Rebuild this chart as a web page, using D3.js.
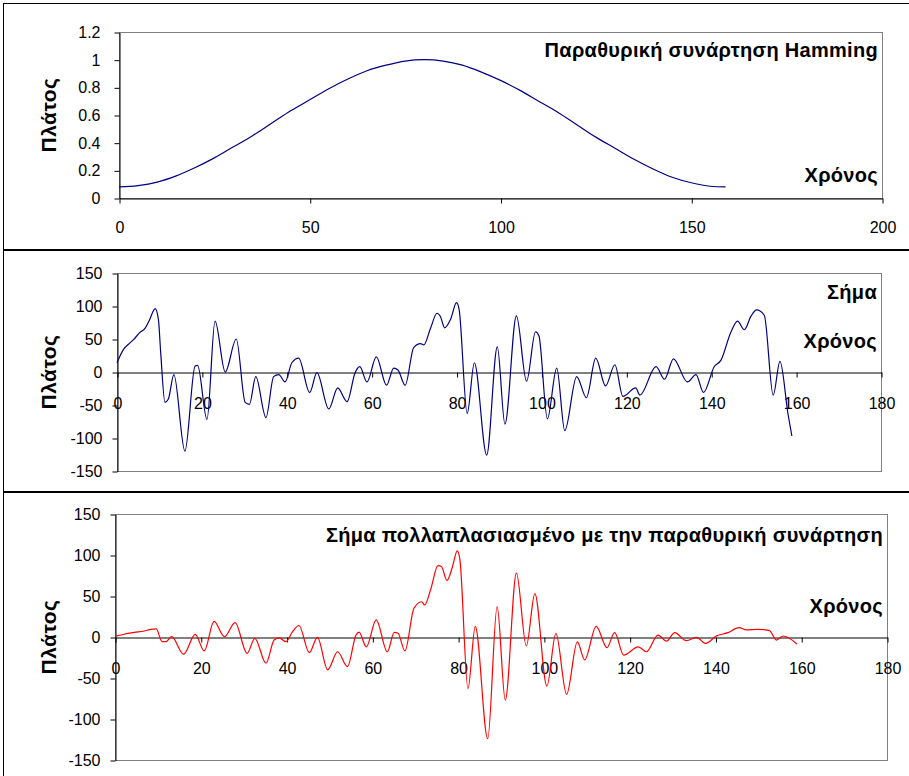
<!DOCTYPE html>
<html>
<head>
<meta charset="utf-8">
<script src="https://cdn.jsdelivr.net/npm/d3@7/dist/d3.min.js"></script>
<style>
  body { margin: 0; background: #fff; }
  svg { font-family: "Liberation Sans", Arial, sans-serif; }
</style>
</head>
<body>
<div id="chart"></div>
<script>
// Hamming window
let hammingN   = [0, 5, 10, 15, 20, 25, 30, 35, 40, 45, 50, 55, 60, 65, 70, 75, 80,
                  85, 90, 95, 100, 105, 110, 115, 120, 125, 130, 135, 140, 145, 150, 155, 159];
let hammingVal = [0.08, 0.09, 0.115, 0.16, 0.22, 0.29, 0.37, 0.45, 0.54, 0.63, 0.71, 0.79, 0.86, 0.92, 0.96, 0.99, 1.0,
                  0.99, 0.96, 0.91, 0.85, 0.78, 0.70, 0.62, 0.53, 0.44, 0.36, 0.28, 0.21, 0.15, 0.11, 0.085, 0.08];

// signal (middle panel), turning points
let signalN   = [0, 1.5, 2.7, 3.9, 5.4, 6.6, 7.6, 9, 9.75, 10.3, 11.3, 12.1, 13.4, 16, 18.4, 19, 21.2, 23.1, 25.5, 28.1,
                 30.2, 31.2, 32.7, 35.1, 36.9, 38.1, 39.6, 41.2, 42.8, 45.4, 47.1, 49.9, 52, 54.2, 56.1, 57.2, 58.9,
                 61.1, 63.5, 65.2, 66.2, 67.9, 69.9, 71.5, 72.3, 73.8, 75.4, 76.2, 77.2, 78.6, 80, 80.6, 82.5, 84.2,
                 87.1, 89.6, 91.4, 94.1, 96.5, 98.6, 99.4, 101.4, 103.6, 105.5, 108.3, 110.6, 112.8, 115.1, 117.3,
                 119.2, 122.2, 123.2, 127, 129, 131.1, 134.4, 136.4, 138.2, 140.7, 142.3, 144.6, 146.2, 147.8, 149.4,
                 150.7, 152.5, 154.6, 156.2, 158.1, 159];
let signalVal = [14, 34, 42, 49, 60, 66, 78, 96, 80, 29, -46, -41, -4, -120, 9, 10, -72, 77, 0, 50,
                 -46, -49, -7, -69, -7, -4, -15, 14, 21, -31, -1, -56, -24, -45, -1, 8, -15,
                 23, -20, 6, 3, -20, 37, 43, 41, 65, 89, 84, 67, 80, 105, 95, -63, 14,
                 -126, 38, -79, 85, -14, 61, 55, -71, 6, -89, -7, -39, 21, -21, 11,
                 -37, -24, -35, 8, -11, 20, -15, -4, -31, 8, 18, 60, 77, 64, 85,
                 94, 86, -35, 16, -64, -97];

// signal multiplied by the window (bottom panel), turning points
let windowedN   = [0, 1.4, 3, 4.5, 6.8, 8.4, 9.6, 11, 11.9, 13.2, 16, 18.7, 20.8, 23.1, 25.5, 28, 30.8, 32.6, 35.2,
                   37.1, 38.3, 39.8, 41.4, 42.9, 45.3, 47.2, 49.6, 51.9, 54.2, 56.2, 56.9, 58.6, 60.9, 63.5, 65.1,
                   66, 67.6, 69.7, 71.5, 72.2, 73.6, 75.3, 76.1, 77.4, 78.7, 79.8, 80.4, 82.3, 84, 86.9, 89.1, 91,
                   93.6, 95.9, 97.9, 100.7, 102.8, 105.3, 107.8, 109.5, 112.2, 114.7, 116.5, 118.6, 122, 123.9,
                   126.6, 128.6, 130.5, 133.2, 135.6, 137.7, 140.2, 142.9, 145.5, 147.2, 149.9, 152.6, 154.2, 155.8, 159];
let windowedVal = [1, 2.4, 4.5, 5.7, 7.3, 9.4, 9.8, -5.7, -5.7, 0.4, -21, 3.3, -17, 19, 0.4, 17.5, -20, -1.6, -32,
                   -3.7, -1, -5.7, 6.5, 14, -19, -0.4, -40, -18, -36, 2.4, 6, -12, 21, -18, 5.7,
                   4.5, -17, 35, 43, 39, 58, 87, 86, 69, 86, 105, 95, -63, 13, -124, 37, -77,
                   78, -11, 53, -60, 4.5, -70, -6, -28, 13, -13, 5.3, -22, -12, -18,
                   2.4, -5, 5.3, -4.5, -0.4, -7.8, 1.2, 5.3, 11.4, 8.6, 9.4, 7.8, -3.7, 1.2, -8.6];

let hammingXTicks = [0, 50, 100, 150, 200];
let hammingYTicks = [0, 0.2, 0.4, 0.6, 0.8, 1, 1.2];
let signalXTicks  = [0, 20, 40, 60, 80, 100, 120, 140, 160, 180];
let signalYTicks  = [-150, -100, -50, 0, 50, 100, 150];

let width = 909, height = 776;

let svg = d3.select('#chart')
    .append('svg')
    .attr('width', width)
    .attr('height', height);

// chart frames (right edge is cut off in the original)
let frames = [[3.5, 249.5], [250.5, 491.5], [492.5, 800]];
frames.forEach(function(f) {
    svg.append('rect')
        .attr('x', 3.5).attr('y', f[0])
        .attr('width', 950).attr('height', f[1] - f[0])
        .attr('fill', '#fff')
        .attr('stroke', '#000')
        .attr('stroke-width', 1);
});

let panels = [
    {left: 119, right: 882, top: 32, bottom: 198, xMax: 200, yDom: [0, 1.2],
     xTicks: hammingXTicks, yTicks: hammingYTicks, xs: hammingN, ys: hammingVal,
     color: '#000080', zeroAxis: false, yPad: 14, xPad: 18,
     labels: [['Παραθυρική συνάρτηση Hamming', 57], ['Χρόνος', 182]]},
    {left: 117, right: 881, top: 273, bottom: 471, xMax: 180, yDom: [-150, 150],
     xTicks: signalXTicks, yTicks: signalYTicks, xs: signalN, ys: signalVal,
     color: '#000080', zeroAxis: true, yPad: 10, xPad: 20,
     labels: [['Σήμα', 299], ['Χρόνος', 348]]},
    {left: 115, right: 887, top: 514, bottom: 760, xMax: 180, yDom: [-150, 150],
     xTicks: signalXTicks, yTicks: signalYTicks, xs: windowedN, ys: windowedVal,
     color: '#ff0000', zeroAxis: true, yPad: 10, xPad: 20,
     labels: [['Σήμα πολλαπλασιασμένο με την παραθυρική συνάρτηση', 542], ['Χρόνος', 613]]}
];

panels.forEach(function(p) {
    let x = d3.scaleLinear().domain([0, p.xMax]).range([p.left, p.right]);
    let y = d3.scaleLinear().domain(p.yDom).range([p.bottom, p.top]);

    // grey plot border
    svg.append('rect')
        .attr('x', p.left + 0.5).attr('y', p.top + 0.5)
        .attr('width', p.right - p.left).attr('height', p.bottom - p.top)
        .attr('fill', 'none')
        .attr('stroke', '#808080')
        .attr('stroke-width', 1);

    let yAxis = svg.append('g')
        .attr('transform', 'translate(' + (p.left + 0.5) + ',0.5)')
        .call(d3.axisLeft(y).tickValues(p.yTicks).tickSize(5).tickSizeOuter(0)
            .tickPadding(p.yPad).tickFormat(function(d) { return String(d); }));

    let xPos = p.zeroAxis ? y(0) : p.bottom;
    let xAxis = svg.append('g')
        .attr('transform', 'translate(0.5,' + (xPos + 0.5) + ')')
        .call(d3.axisBottom(x).tickValues(p.xTicks).tickSize(5).tickSizeOuter(0)
            .tickPadding(p.xPad).tickFormat(function(d) { return String(d); }));

    [yAxis, xAxis].forEach(function(a) {
        a.selectAll('path, line').attr('stroke', '#000');
        a.selectAll('text')
            .attr('fill', '#000')
            .style('font-family', '"Liberation Sans", Arial, sans-serif')
            .style('font-size', '16px');
    });

    let line = d3.line()
        .x(function(d, i) { return x(p.xs[i]); })
        .y(function(d) { return y(d); })
        .curve(d3.curveMonotoneX);

    svg.append('path')
        .datum(p.ys)
        .attr('d', line)
        .attr('fill', 'none')
        .attr('stroke', p.color)
        .attr('stroke-width', 1.2);

    p.labels.forEach(function(l) {
        svg.append('text')
            .attr('x', p.right - 4)
            .attr('y', l[1])
            .attr('text-anchor', 'end')
            .style('font-weight', 'bold')
            .style('font-size', '20px')
            .style('letter-spacing', '0.3px')
            .text(l[0]);
    });

    svg.append('text')
        .attr('transform', 'translate(56,' + ((p.top + p.bottom) / 2) + ') rotate(-90)')
        .attr('text-anchor', 'middle')
        .style('font-weight', 'bold')
        .style('font-size', '21px')
        .style('letter-spacing', '0.5px')
        .text('Πλάτος');
});
</script>
</body>
</html>
